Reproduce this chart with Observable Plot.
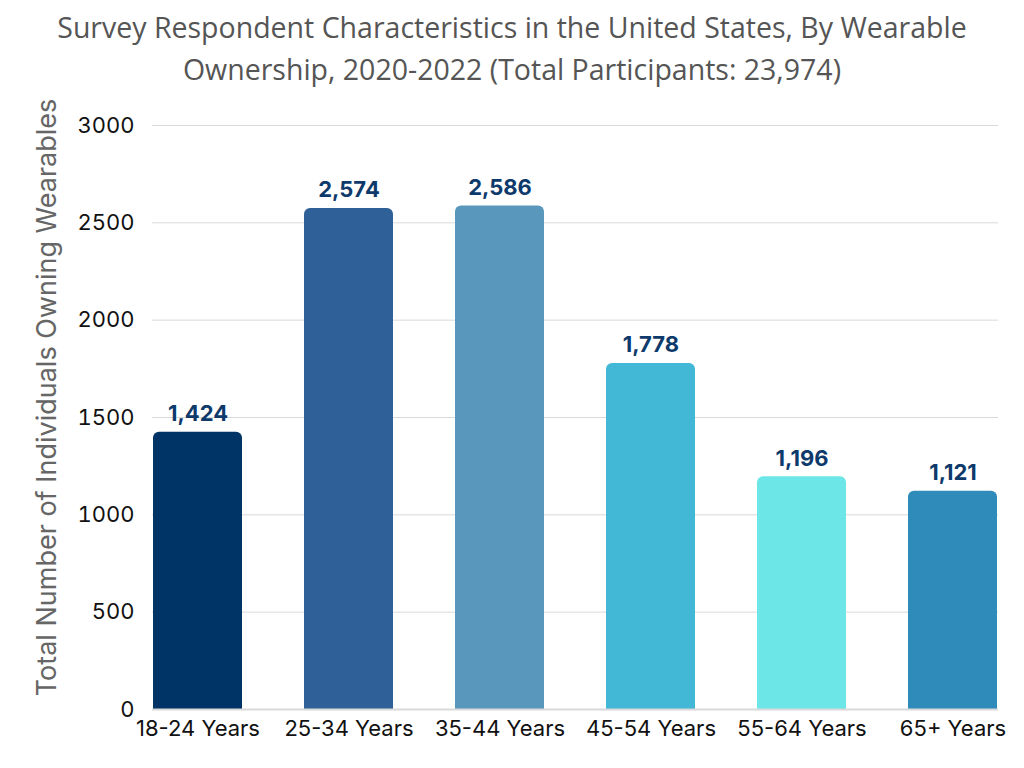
<!DOCTYPE html>
<html>
<head>
<meta charset="utf-8">
<script src="https://cdn.jsdelivr.net/npm/d3@7"></script>
<script src="https://cdn.jsdelivr.net/npm/@observablehq/plot@0.6"></script>
<style>
  html, body { margin: 0; padding: 0; background: #fff; }
  #wrap { width: 1024px; height: 768px; overflow: hidden; }
  #title { height: 100px; box-sizing: border-box; padding-top: 6px; text-align: center; font-family: "Open Sans", sans-serif; font-size: 28.5px; line-height: 42px; color: #555; }
</style>
</head>
<body>
<div id="wrap">
  <div id="title">Survey Respondent Characteristics in the United States, By Wearable<br>Ownership, 2020-2022 (Total Participants: 23,974)</div>
  <div id="chart"></div>
</div>
<script>
const categories = ["18-24 Years", "25-34 Years", "35-44 Years", "45-54 Years", "55-64 Years", "65+ Years"];
const values = [1424, 2574, 2586, 1778, 1196, 1121];
const colors = ["#003366", "#2f6098", "#5a97bd", "#42b7d6", "#6de6e8", "#2e8bba"];
const yTicks = [0, 500, 1000, 1500, 2000, 2500, 3000];
const yLabel = "Total Number of Individuals Owning Wearables";

const data = categories.map((c, i) => ({category: c, value: values[i], color: colors[i]}));
const fmt = d3.format(",");

const chart = Plot.plot({
  width: 1024,
  height: 668,
  marginLeft: 152,
  marginRight: 26,
  marginTop: 25,
  marginBottom: 59,
  style: { fontFamily: "Inter", fontSize: "22px", color: "#111", background: "#fff" },
  x: { domain: categories, paddingInner: 0.41, paddingOuter: 0, label: null },
  y: { domain: [0, 3000], ticks: yTicks, label: null },
  marks: [
    Plot.gridY(yTicks.filter(t => t > 0), { stroke: "#d9d9d9", strokeOpacity: 1, strokeWidth: 1 }),
    Plot.barY(data, { x: "category", y: "value", fill: "color", rx: 6 }),
    Plot.barY(data, { x: "category", y: d => d.value / 2, fill: "color" }),
    Plot.ruleY([0], { stroke: "#d9d9d9", strokeWidth: 2 }),
    Plot.text(data, { x: "category", y: "value", text: d => fmt(d.value), dy: -18, fill: "#0d3a6b", fontWeight: "bold", fontSize: 22, fontFamily: "Inter" }),
    Plot.axisY({ ticks: yTicks, tickFormat: d => String(d), tickSize: 0, tickPadding: 18, fontSize: 22, fontFamily: "Inter", label: null }),
    Plot.axisX({ tickSize: 0, tickPadding: 11, fontSize: 22, fontFamily: "Inter", label: null }),
    Plot.text([yLabel], { text: d => d, frameAnchor: "left", textAnchor: "middle", rotate: -90, dx: -105, dy: -20, fontSize: 27, fontFamily: "Inter", fill: "#666" })
  ]
});
document.getElementById("chart").appendChild(chart);
</script>
</body>
</html>
